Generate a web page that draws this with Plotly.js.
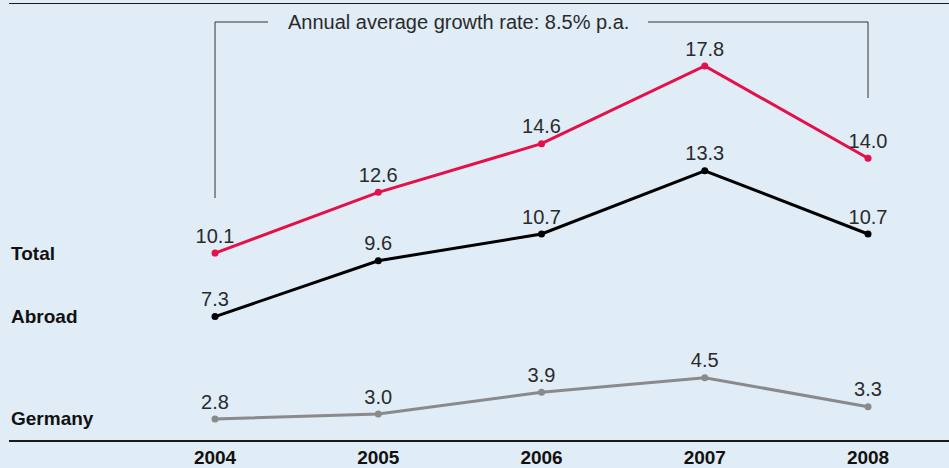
<!DOCTYPE html>
<html>
<head>
<meta charset="utf-8">
<script src="https://cdn.plot.ly/plotly-3.0.1.min.js"></script>
<style>html,body{margin:0;padding:0;background:#e0ecf6;}</style>
</head>
<body>
<div id="chart" style="width:949px;height:468px;"></div>
<script>
const years = [2004, 2005, 2006, 2007, 2008];
const yearLabels = ['2004', '2005', '2006', '2007', '2008'];
const total = [10.1, 12.6, 14.6, 17.8, 14.0];
const abroad = [7.3, 9.6, 10.7, 13.3, 10.7];
const germany = [2.8, 3.0, 3.9, 4.5, 3.3];
const seriesNames = ['Total', 'Abroad', 'Germany'];
const growthNote = 'Annual average growth rate: 8.5% p.a.';

const FAM = 'Liberation Sans, Arial, sans-serif';
const fmt = a => a.map(v => v.toFixed(1));
const lblFont = {family: FAM, size: 20, color: '#2a2a2a'};

function tr(vals, color, yaxis, name) {
  return {
    x: years, y: vals, name: name, yaxis: yaxis,
    type: 'scatter', mode: 'lines+markers+text',
    line: {color: color, width: 3},
    marker: {color: color, size: 7},
    text: fmt(vals), textposition: 'top center',
    textfont: lblFont, cliponaxis: false, hoverinfo: 'skip'
  };
}

const data = [
  tr(total, '#e4104a', 'y', seriesNames[0]),
  tr(abroad, '#000000', 'y3', seriesNames[1]),
  tr(germany, '#8a8a8a', 'y2', seriesNames[2])
];

const X0 = 2002.738, X1 = 2008.496;
const layout = {
  width: 949, height: 468,
  margin: {l: 9, r: 0, t: 4, b: 28},
  paper_bgcolor: '#e0ecf6', plot_bgcolor: '#e0ecf6',
  showlegend: false,
  xaxis: {
    range: [X0, X1], tickvals: years, ticktext: yearLabels,
    showgrid: false, zeroline: false, showline: true, linecolor: '#1a1a1a', linewidth: 1.5,
    mirror: true, ticks: '', ticklen: 0,
    tickfont: {family: FAM, size: 19, color: '#111', weight: 'bold'}
  },
  yaxis: {range: [2.407, 20.35], visible: false, fixedrange: true},
  yaxis2: {range: [1.934, 19.877], overlaying: 'y', visible: false, fixedrange: true},
  yaxis3: {range: [2.222, 20.165], overlaying: 'y', visible: false, fixedrange: true}
};

const py = p => 1 - (p - 4) / 436; // pixel to paper y
const xpx = p => X0 + (p - 9) / 940 * (X1 - X0);
const xl = years[0], xr = years[years.length - 1];
const br = {color: '#333', width: 1};
layout.shapes = [
  {type: 'line', xref: 'x', yref: 'paper', x0: xl, x1: xl, y0: py(198), y1: py(22), line: br},
  {type: 'line', xref: 'x', yref: 'paper', x0: xl, x1: xpx(268), y0: py(22), y1: py(22), line: br},
  {type: 'line', xref: 'x', yref: 'paper', x0: xpx(648), x1: xr, y0: py(22), y1: py(22), line: br},
  {type: 'line', xref: 'x', yref: 'paper', x0: xr, x1: xr, y0: py(22), y1: py(98), line: br}
];
const sideFont = {family: FAM, size: 19, color: '#111'};
layout.annotations = [
  {xref: 'x', yref: 'paper', x: xpx(458), y: py(22), text: growthNote, showarrow: false,
   font: {family: FAM, size: 20, color: '#2a2a2a'}, xanchor: 'center', yanchor: 'middle'},
  {xref: 'paper', yref: 'y', x: 0, xanchor: 'left', y: total[0], text: '<b>' + seriesNames[0] + '</b>', showarrow: false, font: sideFont},
  {xref: 'paper', yref: 'y3', x: 0, xanchor: 'left', y: abroad[0], text: '<b>' + seriesNames[1] + '</b>', showarrow: false, font: sideFont},
  {xref: 'paper', yref: 'y2', x: 0, xanchor: 'left', y: germany[0], text: '<b>' + seriesNames[2] + '</b>', showarrow: false, font: sideFont}
];

Plotly.newPlot('chart', data, layout, {displayModeBar: false, staticPlot: true});
</script>
</body>
</html>
